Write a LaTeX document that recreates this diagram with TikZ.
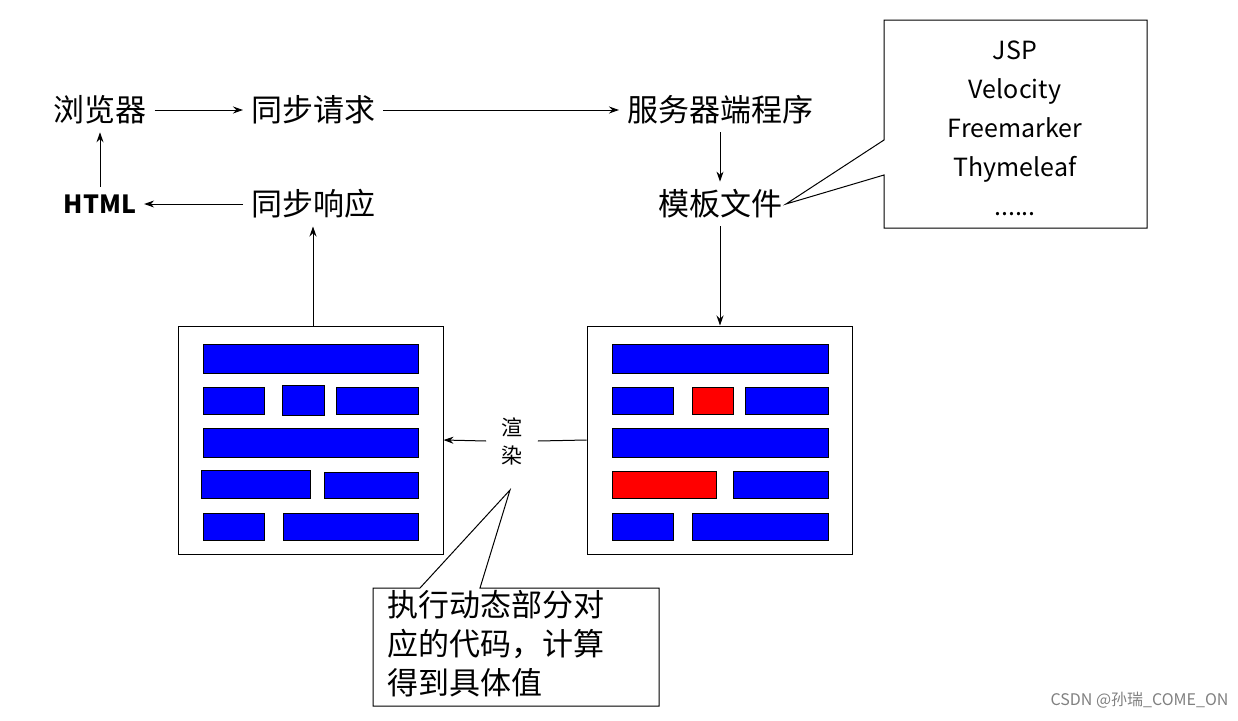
\documentclass[tikz,border=0pt]{standalone}
\usepackage{fontspec}
\usetikzlibrary{arrows.meta}
\setmainfont{Noto Sans CJK SC}
\begin{document}
\begin{tikzpicture}[x=1pt,y=-1pt,
  lbl/.style={font=\fontsize{31}{33}\selectfont,inner sep=2pt,outer sep=6pt},
  arr/.style={-{Stealth[length=10pt,width=7pt]},line width=1pt},
  pane/.style={draw,line width=1pt,fill=white},
  bar/.style={draw,line width=0.8pt,fill=blue},
  rbar/.style={draw,line width=0.8pt,fill=red}]
\useasboundingbox (0,0) rectangle (1238,720);
\node[lbl] (b) at (100,110) {浏览器};
\node[lbl] (q) at (313,110) {同步请求};
\node[lbl] (s) at (720,110) {服务器端程序};
\node[lbl,font=\fontsize{25}{27}\selectfont\bfseries] (h) at (100,204) {HTML};
\node[lbl] (r) at (313,204) {同步响应};
\node[lbl] (t) at (720,204) {模板文件};
\draw[arr] (b) -- (q);
\draw[arr] (q) -- (s);
\draw[arr] (s) -- (t);
\draw[arr] (r) -- (h);
\draw[arr] (h) -- (b);
% callout top
\draw[line width=1pt,fill=white] (884,20) -- (1147,20) -- (1147,228) -- (884,228) -- (884,175) -- ([xshift=-4pt]t.east) -- (884,140) -- cycle;
\node[align=center,font=\fontsize{25}{39}\selectfont] (list) at (1015,128) {JSP\\Velocity\\Freemarker\\Thymeleaf\\......};
% panels
\node[pane,minimum width=265pt,minimum height=228pt] (L) at (310.5,440) {};
\node[pane,minimum width=265pt,minimum height=228pt] (R) at (719.5,440) {};
\draw[arr] (t) -- (t |- R.north);
\draw[arr] (r |- L.north) -- (r);
% left bars
\draw[bar] (203,344) rectangle (418,373);
\draw[bar] (203,387) rectangle (264,414);
\draw[bar] (282,385) rectangle (324,415);
\draw[bar] (336,387) rectangle (418,414);
\draw[bar] (203,428) rectangle (418,457);
\draw[bar] (201,470) rectangle (310,498);
\draw[bar] (324,472) rectangle (418,498);
\draw[bar] (203,513) rectangle (264,540);
\draw[bar] (283,513) rectangle (418,540);
% right bars
\draw[bar] (612,344) rectangle (828,373);
\draw[bar] (612,387) rectangle (673,414);
\draw[rbar] (692,387) rectangle (733,414);
\draw[bar] (745,387) rectangle (828,414);
\draw[bar] (612,428) rectangle (828,457);
\draw[rbar] (612,471) rectangle (716,498);
\draw[bar] (733,471) rectangle (828,498);
\draw[bar] (612,513) rectangle (673,540);
\draw[bar] (692,513) rectangle (828,540);
% render
\node[align=center,font=\fontsize{21}{28}\selectfont,outer sep=12pt] (xr) at (512,441) {渲\\染};
\draw[line width=1pt] (R.west) -- (xr.east);
\draw[arr] (xr.west) -- (L.east);
% bottom callout
\coordinate (tip) at (510,490);
\draw[line width=1pt,fill=white] (373,588) -- (420,588) -- (tip) -- (480,588) -- (659,588) -- (659,706) -- (373,706) -- cycle;
\node[align=left,anchor=north west,font=\fontsize{31}{39}\selectfont,inner sep=0pt] (note) at (387,590) {执行动态部分对\\应的代码，计算\\得到具体值};
\node[anchor=south east,font=\fontsize{16}{18}\selectfont,text=gray] (wm) at (1232,712) {CSDN @孙瑞\_COME\_ON};
\end{tikzpicture}
\end{document}
